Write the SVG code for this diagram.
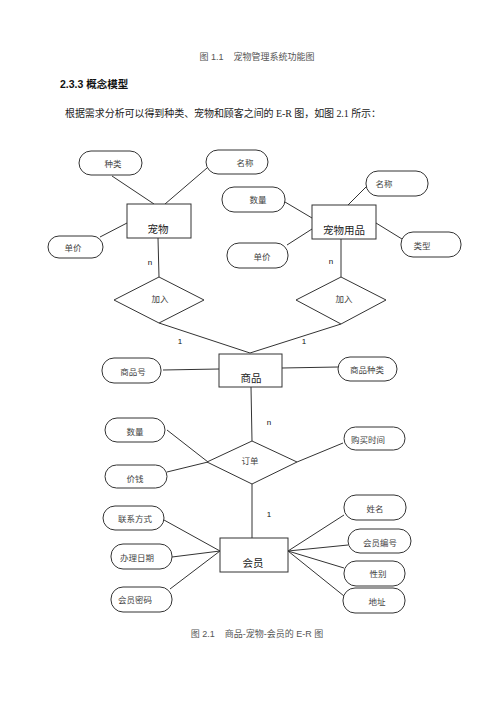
<svg xmlns="http://www.w3.org/2000/svg" width="500" height="707" viewBox="0 0 500 707">
<style>
.cap{font-family:"Liberation Sans","Noto Sans CJK SC",sans-serif;font-size:9px;fill:#555;}
.h{font-family:"Liberation Sans","Noto Sans CJK SC",sans-serif;font-size:10.5px;font-weight:bold;fill:#111;}
.p{font-family:"Liberation Serif","Noto Sans CJK SC",serif;font-size:10px;fill:#222;}
.attr rect{fill:#fff;stroke:#333;stroke-width:1;}
.attr text{font-family:"Noto Sans CJK SC",sans-serif;font-size:8.5px;fill:#444;text-anchor:middle;dominant-baseline:central;}
.ent rect{fill:#fff;stroke:#333;stroke-width:1;}
.ent text{font-family:"Noto Sans CJK SC",sans-serif;font-size:10.5px;fill:#222;text-anchor:middle;dominant-baseline:central;}
.rel polygon{fill:#fff;stroke:#333;stroke-width:1;}
.rel text{font-family:"Noto Sans CJK SC",sans-serif;font-size:8.5px;fill:#444;text-anchor:middle;dominant-baseline:central;}
.conn line{stroke:#333;stroke-width:1;}
.lbl{font-family:"Liberation Sans",sans-serif;font-size:8px;fill:#111;text-anchor:middle;dominant-baseline:central;}
</style>
<rect width="500" height="707" fill="#fff"/>
<text class="cap" x="257" y="60" text-anchor="middle" xml:space="preserve">图 1.1    宠物管理系统功能图</text>
<text class="h" x="60" y="88">2.3.3 概念模型</text>
<text class="p" x="65" y="117" textLength="316" lengthAdjust="spacing">根据需求分析可以得到种类、宠物和顾客之间的 E-R 图，如图 2.1 所示：</text>

<g id="connectors" class="conn">
<line x1="112" y1="176" x2="154" y2="204"/>
<line x1="207" y1="168" x2="165" y2="204"/>
<line x1="100" y1="237" x2="127" y2="223"/>
<line x1="158" y1="238" x2="159" y2="277"/>
<line x1="285" y1="202" x2="312" y2="218"/>
<line x1="287" y1="245" x2="312" y2="229"/>
<line x1="366" y1="187" x2="348" y2="205"/>
<line x1="376" y1="223" x2="402" y2="239"/>
<line x1="341" y1="239" x2="341" y2="277"/>
<line x1="159" y1="323" x2="250" y2="353"/>
<line x1="341" y1="324" x2="250" y2="353"/>
<line x1="163" y1="370" x2="219" y2="369"/>
<line x1="282" y1="368" x2="338" y2="367"/>
<line x1="251" y1="387" x2="252" y2="441"/>
<line x1="167" y1="430" x2="208" y2="462"/>
<line x1="167" y1="472" x2="208" y2="462"/>
<line x1="297" y1="462" x2="343" y2="443"/>
<line x1="252" y1="484" x2="252" y2="538"/>
<line x1="164" y1="520" x2="220" y2="551"/>
<line x1="172" y1="557" x2="220" y2="551"/>
<line x1="170" y1="589" x2="220" y2="551"/>
<line x1="288" y1="551" x2="344" y2="515"/>
<line x1="288" y1="551" x2="348" y2="545"/>
<line x1="288" y1="551" x2="344" y2="568"/>
<line x1="288" y1="551" x2="344" y2="596"/>
</g>

<text class="lbl" x="150" y="262">n</text>
<text class="lbl" x="331" y="261">n</text>
<text class="lbl" x="180" y="341">1</text>
<text class="lbl" x="304" y="341">1</text>
<text class="lbl" x="269" y="422">n</text>
<text class="lbl" x="269" y="514">1</text>

<g id="pet" class="ent"><rect x="127" y="204" width="64" height="34"/><text x="158" y="228">宠物</text></g>
<g id="supplies" class="ent"><rect x="312" y="205" width="64" height="34"/><text x="344" y="229">宠物用品</text></g>
<g id="goods" class="ent"><rect x="219" y="354" width="63" height="33"/><text x="251" y="377">商品</text></g>
<g id="member" class="ent"><rect x="220" y="538" width="68" height="34"/><text x="253" y="562">会员</text></g>

<g id="join1" class="rel"><polygon points="159,277 204,300 159,323 114,300"/><text x="160" y="298">加入</text></g>
<g id="join2" class="rel"><polygon points="341,277 386,300 341,324 296,300"/><text x="344" y="298">加入</text></g>
<g id="order" class="rel"><polygon points="252,441 297,462 252,484 207,462"/><text x="250" y="460">订单</text></g>

<g id="a-kind" class="attr"><rect x="79" y="151" width="63" height="24" rx="12"/><text x="113" y="163">种类</text></g>
<g id="a-name1" class="attr"><rect x="206" y="150" width="62" height="24" rx="12"/><text x="245" y="162">名称</text></g>
<g id="a-price1" class="attr"><rect x="48" y="236" width="55" height="22" rx="11"/><text x="73" y="247">单价</text></g>
<g id="a-name2" class="attr"><rect x="366" y="171" width="62" height="25" rx="12"/><text x="384" y="183">名称</text></g>
<g id="a-qty1" class="attr"><rect x="222" y="187" width="63" height="25" rx="12"/><text x="258" y="199">数量</text></g>
<g id="a-type" class="attr"><rect x="401" y="232" width="60" height="25" rx="12"/><text x="422" y="245">类型</text></g>
<g id="a-price2" class="attr"><rect x="227" y="243" width="61" height="25" rx="12"/><text x="262" y="256">单价</text></g>
<g id="a-gno" class="attr"><rect x="102" y="358" width="59" height="25" rx="12"/><text x="133" y="371">商品号</text></g>
<g id="a-gkind" class="attr"><rect x="338" y="357" width="59" height="24" rx="12"/><text x="367" y="369">商品种类</text></g>
<g id="a-qty2" class="attr"><rect x="105" y="418" width="60" height="24" rx="12"/><text x="135" y="431">数量</text></g>
<g id="a-money" class="attr"><rect x="105" y="465" width="62" height="23" rx="11.5"/><text x="135" y="478">价钱</text></g>
<g id="a-time" class="attr"><rect x="344" y="427" width="61" height="23" rx="11.5"/><text x="368" y="439">购买时间</text></g>
<g id="a-contact" class="attr"><rect x="103" y="506" width="61" height="24" rx="12"/><text x="135" y="518">联系方式</text></g>
<g id="a-date" class="attr"><rect x="111" y="544" width="61" height="25" rx="12"/><text x="137" y="557">办理日期</text></g>
<g id="a-pwd" class="attr"><rect x="111" y="587" width="61" height="25" rx="12"/><text x="135" y="599">会员密码</text></g>
<g id="a-xname" class="attr"><rect x="344" y="495" width="62" height="25" rx="12"/><text x="375" y="508">姓名</text></g>
<g id="a-mno" class="attr"><rect x="348" y="529" width="63" height="24" rx="12"/><text x="380" y="542">会员编号</text></g>
<g id="a-sex" class="attr"><rect x="344" y="561" width="61" height="25" rx="12"/><text x="378" y="573">性别</text></g>
<g id="a-addr" class="attr"><rect x="343" y="588" width="62" height="25" rx="12"/><text x="377" y="601">地址</text></g>

<text class="cap" x="257" y="637" text-anchor="middle" xml:space="preserve">图 2.1    商品-宠物-会员的 E-R 图</text>
</svg>
